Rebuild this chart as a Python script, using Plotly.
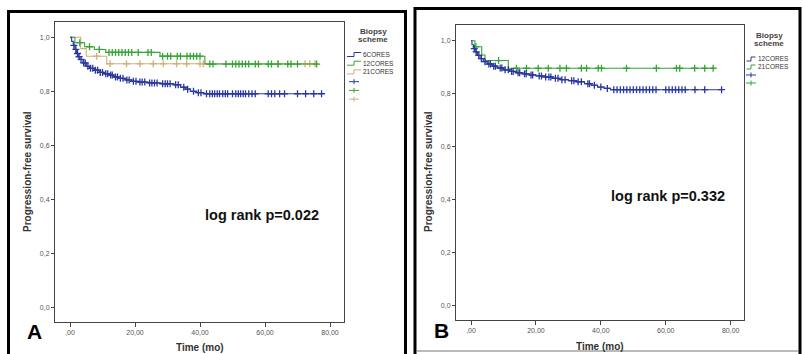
import numpy as np
import plotly.graph_objects as go

W, H = 804, 354

# ---------------- DATA ----------------
# Panel A (step events: time, survival after event)
a6_t = [0.5, 1.0, 1.5, 2.0, 2.5, 3.0, 4.0, 5.0, 6.0, 7.5, 9.0, 10.5, 12.0, 13.5, 15.0, 17.0,
        19.0, 21.0, 24.0, 28.0, 32.0, 34.0, 35.5, 37.0, 39.0, 41.0]
a6_s = [0.985, 0.97, 0.955, 0.94, 0.928, 0.918, 0.905, 0.893, 0.885, 0.878, 0.87, 0.865, 0.86,
        0.853, 0.848, 0.842, 0.837, 0.834, 0.831, 0.828, 0.824, 0.815, 0.808, 0.80, 0.795, 0.791]
a6_end = 77.4
a6_cens = [1.2, 1.8, 2.3, 2.8, 3.4, 4.2, 4.7, 5.5, 6.3, 7.0, 7.8, 8.5, 9.3, 10.0, 11.0, 11.6,
           12.5, 13.0, 14.0, 14.6, 15.5, 16.3, 17.5, 18.2, 19.5, 20.3, 21.5, 22.2, 23.0, 24.5,
           25.2, 26.0, 26.8, 28.5, 29.3, 30.0, 30.8, 32.5, 33.3, 35.0, 36.2, 38.0, 39.5, 40.3,
           42, 43, 43.8, 44.5, 45.3, 46, 47, 47.8, 48.5, 50, 51, 51.8, 52.5, 53.3, 54, 55, 56, 57,
           61, 62, 63, 64.5, 66, 70, 72.5, 75, 77.4]

a12_t = [1.5, 4.5, 7.5, 11.0, 27.7, 41.5]
a12_s = [0.98, 0.965, 0.955, 0.944, 0.93, 0.901]
a12_end = 75.9
a12_cens = [3, 6, 9, 12, 13, 14, 15, 16, 17, 18, 19, 21, 24, 25, 28.5, 30, 31, 33, 34, 36, 37,
            38, 39, 40, 43, 44, 48, 50, 51, 52, 53, 54, 55, 57, 58, 61, 62, 64, 67, 68, 70, 75.9]

a21_t = [3.3, 5.0, 11.3]
a21_s = [0.958, 0.93, 0.902]
a21_end = 75.4
a21_cens = [8.2, 12.3, 17.4, 21.5, 25.6, 28.7, 32.8, 35.9, 40, 41, 64, 72.3, 73.8, 75.4]

# Panel B
b12_t = [0.3, 0.8, 1.3, 2.0, 2.8, 3.8, 5.0, 6.5, 8.0, 10.0, 12.0, 14.0, 16.0, 18.0, 20.0, 22.5,
         25.0, 27.5, 30.0, 32.5, 35.0, 37.0, 39.0, 41.0, 43.0]
b12_s = [0.985, 0.97, 0.958, 0.945, 0.932, 0.921, 0.912, 0.904, 0.897, 0.89, 0.884, 0.879, 0.875,
         0.871, 0.867, 0.863, 0.858, 0.853, 0.849, 0.845, 0.838, 0.832, 0.825, 0.82, 0.815]
b12_end = 77.2
b12_cens = [1, 1.6, 2.4, 3.2, 4.3, 5.5, 6.0, 7, 7.5, 9, 9.5, 10.5, 11.5, 12.5, 13, 14.5, 15, 16.5,
            17, 18.5, 19, 21, 21.7, 23, 24, 24.6, 26, 26.8, 28, 29, 31, 31.7, 33, 34, 36, 36.5,
            38, 40, 42, 44, 45, 46, 47, 48, 49, 50, 51, 52, 53, 54, 55, 56, 57, 60, 61, 62,
            63, 64, 65, 66, 69, 72, 77.2]

b21_t = [1.2, 3.3, 4.3, 11.5]
b21_s = [0.977, 0.946, 0.925, 0.896]
b21_end = 75.2
b21_cens = [1.5, 8.5, 14, 17.1, 20.7, 23.8, 27.4, 29.4, 34, 35.6, 39.2, 40.2, 47.9, 57.1, 63.3,
            64.3, 68.9, 72, 74.6]

x_tickvals = [0, 20, 40, 60, 80]
x_ticktext = [",00", "20,00", "40,00", "60,00", "80,00"]
y_tickvals = [0, 0.2, 0.4, 0.6, 0.8, 1.0]
y_ticktext = ["0,0", "0,2", "0,4", "0,6", "0,8", "1,0"]

legend_a = ["6CORES", "12CORES", "21CORES"]
legend_b = ["12CORES", "21CORES"]
pval_a = "log rank p=0.022"
pval_b = "log rank p=0.332"

BLUE = "#2a389c"
GREEN = "#35a535"
TAN = "#d2b07a"


def px(x):
    return x / W


def py(y):
    return 1 - y / H


def step_xy(t, s, end):
    xs = [0.0] + list(t) + [end]
    ys = [1.0] + list(s) + [s[-1]]
    return xs, ys


def surv_at(t, s, times):
    t = np.asarray(t)
    s = np.asarray(s)
    idx = np.searchsorted(t, np.asarray(times), side="right")
    full = np.concatenate([[1.0], s])
    return full[idx]


fig = go.Figure()


def add_curve(t, s, end, cens, color, xa, ya):
    xs, ys = step_xy(t, s, end)
    fig.add_trace(go.Scatter(x=xs, y=ys, mode="lines", line=dict(color=color, width=1.1, shape="hv"),
                             xaxis=xa, yaxis=ya, showlegend=False, hoverinfo="skip"))
    fig.add_trace(go.Scatter(x=cens, y=surv_at(t, s, cens), mode="markers",
                             marker=dict(symbol="cross-thin", size=5, line=dict(width=1.3, color=color)),
                             xaxis=xa, yaxis=ya, showlegend=False, hoverinfo="skip"))


# Panel A
add_curve(a21_t, a21_s, a21_end, a21_cens, TAN, "x", "y")
add_curve(a12_t, a12_s, a12_end, a12_cens, GREEN, "x", "y")
add_curve(a6_t, a6_s, a6_end, a6_cens, BLUE, "x", "y")
# Panel B
add_curve(b21_t, b21_s, b21_end, b21_cens, GREEN, "x2", "y2")
add_curve(b12_t, b12_s, b12_end, b12_cens, BLUE, "x2", "y2")

axis_common = dict(showline=True, mirror=True, linecolor="#444", linewidth=1, showgrid=False,
                   zeroline=False, ticks="outside", tickcolor="#444",
                   tickfont=dict(family="Liberation Sans", size=7, color="#555555"))

# Panel geometry (pixels)
A_l, A_r, A_t, A_b = 55, 344, 22, 322
A_x0, A_xs = 70, 3.25
A_y0, A_ys = 307.3, 270
B_l, B_r, B_t, B_b = 456, 744, 25, 320
B_x0, B_xs = 471, 3.246
B_y0, B_ys = 305.7, 265

fig.update_layout(
    width=W, height=H, margin=dict(l=0, r=0, t=0, b=0),
    paper_bgcolor="white", plot_bgcolor="white", showlegend=False,
    xaxis=dict(domain=[px(A_l), px(A_r)], range=[(A_l - A_x0) / A_xs, (A_r - A_x0) / A_xs],
               tickvals=x_tickvals, ticktext=x_ticktext, ticklen=4, anchor="y", **axis_common),
    yaxis=dict(domain=[py(A_b), py(A_t)], range=[(A_y0 - A_b) / A_ys, (A_y0 - A_t) / A_ys],
               tickvals=y_tickvals, ticktext=y_ticktext, ticklen=3, anchor="x", **axis_common),
    xaxis2=dict(domain=[px(B_l), px(B_r)], range=[(B_l - B_x0) / B_xs, (B_r - B_x0) / B_xs],
                tickvals=x_tickvals, ticktext=x_ticktext, ticklen=4, anchor="y2", **axis_common),
    yaxis2=dict(domain=[py(B_b), py(B_t)], range=[(B_y0 - B_b) / B_ys, (B_y0 - B_t) / B_ys],
                tickvals=y_tickvals, ticktext=y_ticktext, ticklen=3, anchor="x2", **axis_common),
)

ann = []
shapes = []


def text(x, y, s, size, bold=False, color="#222", angle=0, family="Liberation Sans", xanchor="center"):
    ann.append(dict(x=px(x), y=py(y), xref="paper", yref="paper", text=(f"<b>{s}</b>" if bold else s),
                    showarrow=False, textangle=angle, xanchor=xanchor, yanchor="middle",
                    font=dict(family=family, size=size, color=color)))


# Axis titles
text(27, 172, "Progression-free survival", 10, bold=True, angle=-90, color="#333")
text(428, 172, "Progression-free survival", 10, bold=True, angle=-90, color="#333")
text(200, 347, "Time (mo)", 10, bold=True, color="#333")
text(600, 346, "Time (mo)", 10, bold=True, color="#333")
# Panel letters
text(34.5, 331.5, "A", 21, bold=True, color="#000")
text(441, 330.5, "B", 21, bold=True, color="#000")
# log rank
text(261.5, 214.5, pval_a, 14.5, bold=True, color="#111")
text(667.5, 195.5, pval_b, 14.5, bold=True, color="#111")


def legend(cx, title_y, names, colors, glyph_x, gw, text_x, y0, dy, plus_y0):
    text(cx, title_y, "Biopsy", 8, bold=True, color="#444")
    text(cx, title_y + 9, "scheme", 8, bold=True, color="#444")
    for i, (n, c) in enumerate(zip(names, colors)):
        y = y0 + i * dy
        text(text_x, y, n, 6.5, color="#333", xanchor="left")
        path = (f"M {px(glyph_x)} {py(y + 2)} L {px(glyph_x + gw / 2)} {py(y + 2)} "
                f"L {px(glyph_x + gw / 2)} {py(y - 2)} L {px(glyph_x + gw)} {py(y - 2)}")
        shapes.append(dict(type="path", path=path, xref="paper", yref="paper",
                           line=dict(color=c, width=1)))
    for i, c in enumerate(colors):
        y = plus_y0 + i * dy
        cx_p = glyph_x + gw / 2
        shapes.append(dict(type="line", xref="paper", yref="paper", x0=px(cx_p - 5), x1=px(cx_p + 5),
                           y0=py(y), y1=py(y), line=dict(color=c, width=1)))
        shapes.append(dict(type="line", xref="paper", yref="paper", x0=px(cx_p), x1=px(cx_p),
                           y0=py(y - 2.5), y1=py(y + 2.5), line=dict(color=c, width=1)))


legend(373, 31, legend_a, [BLUE, GREEN, TAN], 347, 14, 361, 54.5, 8.7, 81.7)
legend(769, 35, legend_b, [BLUE, GREEN], 746.5, 9, 756, 59, 8, 75)

# Panel borders
shapes.append(dict(type="rect", xref="paper", yref="paper", x0=px(8.5), x1=px(405.5), y0=py(362), y1=py(11.5),
                   line=dict(color="#000", width=3)))
shapes.append(dict(type="rect", xref="paper", yref="paper", x0=px(415), x1=px(800), y0=py(362), y1=py(8.5),
                   line=dict(color="#000", width=3)))
shapes.append(dict(type="line", xref="paper", yref="paper", x0=px(417), x1=px(799), y0=py(351), y1=py(351),
                   line=dict(color="#777", width=1)))

fig.update_layout(annotations=ann, shapes=shapes)
fig.write_html("out.html", config={"displayModeBar": False, "staticPlot": True},
               post_script="document.body.style.margin='0';document.body.style.overflow='hidden';")
